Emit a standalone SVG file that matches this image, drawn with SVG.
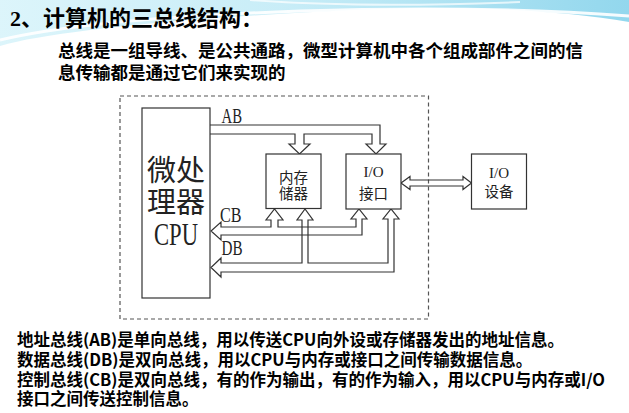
<svg xmlns="http://www.w3.org/2000/svg" width="629" height="413" viewBox="0 0 629 413">
  <defs>
    <linearGradient id="sky" x1="0" y1="0" x2="1" y2="0">
      <stop offset="0" stop-color="#d6f3fa"/>
      <stop offset="0.45" stop-color="#bfeaf6"/>
      <stop offset="1" stop-color="#7fd0ea"/>
    </linearGradient>
    <style>
      .box { fill: #ffffff; stroke: #333333; stroke-width: 1.2; }
      .bus { fill: none; stroke: #333333; stroke-width: 1.2; stroke-linejoin: miter; }
      .frame { fill: none; stroke: #555555; stroke-width: 1.2; stroke-dasharray: 4 3; }
      .cjk { font-family: "Noto Sans CJK SC", "Noto Sans", sans-serif; fill: #222222; }
      .ser { font-family: "Liberation Serif", "Noto Sans CJK SC", serif; fill: #222222; }
      .title { font-family: "Liberation Serif", "Noto Sans CJK SC", serif; font-weight: bold; font-size: 22px; fill: #000000; }
      .para { font-family: "Noto Sans CJK SC", sans-serif; font-weight: bold; font-size: 17.5px; fill: #000000; }
      .note { font-family: "Noto Sans CJK SC", sans-serif; font-weight: bold; font-size: 16.5px; fill: #000000; }
    </style>
  </defs>

  <rect x="0" y="0" width="629" height="413" fill="#ffffff"/>

  <!-- decorative header swoosh -->
  <g id="header-decor">
    <path d="M0,0 H629 V22 C560,10 470,6 380,9 C280,13 170,20 90,30 C50,35 20,40 0,46 Z" fill="url(#sky)" opacity="0.85"/>
    <path d="M0,40 C60,26 160,16 300,11 C420,7 520,8 629,16" fill="none" stroke="#ffffff" stroke-width="3" opacity="0.9"/>
    <path d="M250,0 C330,6 420,6 520,2" fill="none" stroke="#ffffff" stroke-width="2" opacity="0.7"/>
  </g>

  <!-- texts above diagram -->
  <text class="title" x="10" y="26">2、计算机的三总线结构：</text>
  <text class="para"><tspan x="58" y="57">总线是一组导线、是公共通路，微型计算机中各个组成部件之间的信</tspan><tspan x="58" y="79">息传输都是通过它们来实现的</tspan></text>

  <!-- dashed boundary -->
  <g id="boundary">
    <rect class="frame" x="120" y="96" width="308.5" height="223"/>
  </g>

  <!-- connectors -->
  <g id="connectors">
    <!-- AB: address bus, CPU to memory and I/O port -->
    <path id="bus-ab" class="bus" d="M210,125 H380 V144 H386 L376,154 L366,144 H372 V134 H304 V144 H310 L299.5,154 L289,144 H295 V134 H210"/>
    <!-- CB: control bus -->
    <path id="bus-cb" class="bus" d="M271,220 V227 H221 V222 L211,231 L221,240 V235 H362 V219 H367 L359,209 L351,219 H356 V227 H278 V220 H283 L274.5,209 L266,220 Z"/>
    <!-- DB: data bus -->
    <path id="bus-db" class="bus" d="M302,220 V263 H221 V258 L211,267.5 L221,277 V272 H394 V219 H399 L391,209 L383,219 H388 V263 H308 V220 H313 L305,209 L297,220 Z"/>
    <!-- I/O port <-> I/O device -->
    <path id="link-io" class="bus" d="M401,183 L410,176.5 V180 H463 V176.5 L471.5,183 L463,189.5 V186 H410 V189.5 Z"/>
    <text class="ser" x="221.5" y="123" font-size="20" textLength="20.5" lengthAdjust="spacingAndGlyphs">AB</text>
    <text class="ser" x="220" y="221.5" font-size="20" textLength="21.5" lengthAdjust="spacingAndGlyphs">CB</text>
    <text class="ser" x="221.5" y="255" font-size="20" textLength="21" lengthAdjust="spacingAndGlyphs">DB</text>
  </g>

  <!-- nodes -->
  <g id="cpu">
    <rect class="box" x="142" y="108" width="68" height="190"/>
    <text class="cjk" font-size="29" text-anchor="middle"><tspan x="176" y="181">微处</tspan><tspan x="176" y="213">理器</tspan></text>
    <text class="ser" x="154" y="245" font-size="31" textLength="44" lengthAdjust="spacingAndGlyphs">CPU</text>
  </g>

  <g id="memory">
    <rect class="box" x="266" y="154" width="55" height="54.5"/>
    <text class="cjk" font-size="14.5" text-anchor="middle"><tspan x="293.5" y="182.5">内存</tspan><tspan x="293.5" y="198.5">储器</tspan></text>
  </g>

  <g id="io-port">
    <rect class="box" x="346" y="154" width="55" height="55"/>
    <text class="cjk" font-size="14.5" text-anchor="middle"><tspan class="ser" x="373.5" y="177" font-size="15">I/O</tspan><tspan x="373.5" y="198.5">接口</tspan></text>
  </g>

  <g id="io-device">
    <rect class="box" x="471.5" y="154" width="55" height="55"/>
    <text class="cjk" font-size="14.5" text-anchor="middle"><tspan class="ser" x="499" y="178" font-size="15">I/O</tspan><tspan x="499" y="196.5">设备</tspan></text>
  </g>

  <!-- notes below diagram -->
  <text class="note"><tspan x="17" y="346">地址总线(AB)是单向总线，用以传送CPU向外设或存储器发出的地址信息。</tspan><tspan x="17" y="366">数据总线(DB)是双向总线，用以CPU与内存或接口之间传输数据信息。</tspan><tspan x="17" y="386">控制总线(CB)是双向总线，有的作为输出，有的作为输入，用以CPU与内存或I/O</tspan><tspan x="17" y="405">接口之间传送控制信息。</tspan></text>
</svg>
